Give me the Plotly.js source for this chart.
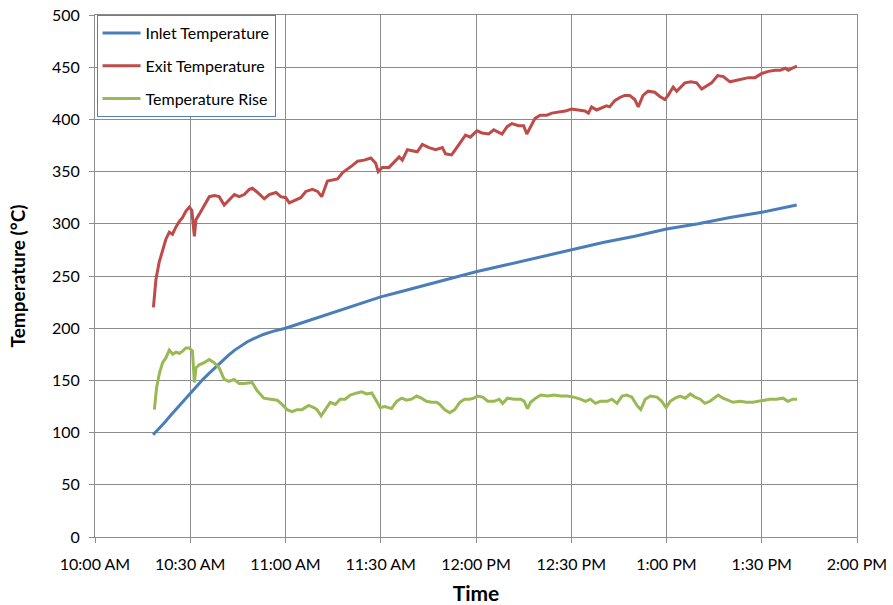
<!DOCTYPE html>
<html>
<head>
<meta charset="utf-8">
<script src="https://cdn.plot.ly/plotly-3.0.1.min.js"></script>
<style>html,body{margin:0;padding:0;background:#fff;}#chart{width:893px;height:605px;}</style>
</head>
<body>
<div id="chart"></div>
<script>
// Time is minutes after 10:00 AM
const tickMinutes = [0, 30, 60, 90, 120, 150, 180, 210, 240];
const tickLabels = ["10:00 AM", "10:30 AM", "11:00 AM", "11:30 AM", "12:00 PM", "12:30 PM", "1:00 PM", "1:30 PM", "2:00 PM"];

const inletTime = [18.3, 20, 22, 24, 26, 28, 30, 32, 34, 36, 38, 40, 42, 44, 46, 48, 50, 53, 56, 60, 65, 70, 75, 80, 85, 90, 95, 100, 105, 110, 115, 120, 130, 140, 150, 160, 170, 180, 190, 200, 210, 221];
const inletTemp = [98, 104, 110, 117, 124, 131, 138, 145, 151, 157, 163, 169, 174, 179, 183, 187, 190, 194, 197, 200, 205, 210, 215, 220, 225, 230, 234, 238, 242, 246, 250, 254, 261, 268, 275, 282, 288, 295, 300, 306, 311, 318];

const exitTime = [18.4, 19.2, 20.2, 21.3, 22.3, 23.4, 24.4, 25.5, 26.5, 27.6, 28.6, 29.7, 30.5, 31.3, 31.8, 32.8, 34.4, 36, 37.6, 39.1, 40.7, 42.3, 43.9, 45.4, 47, 48.6, 49.6, 51.2, 53.3, 54.9, 57, 58.5, 60.1, 61.2, 62.7, 64.8, 66.4, 68.5, 70.1, 71.4, 73.2, 74.8, 76.4, 78, 79.5, 81.1, 82.7, 84.8, 86.9, 88.4, 89.2, 90.5, 92.6, 94.2, 95.8, 96.8, 98.4, 99.9, 101.5, 103.1, 105.2, 107.3, 109.4, 110.4, 112.3, 113.5, 115.1, 116.7, 118.2, 120.3, 121.9, 124, 125.6, 127.1, 128.2, 129.8, 131.3, 133.4, 135, 136, 137.1, 138.6, 140.2, 142.3, 143.9, 146, 148.1, 150.1, 152.2, 154.3, 155.4, 156.4, 158, 159.6, 161.1, 162.1, 163.7, 165.3, 166.8, 168.4, 170, 171.1, 172.6, 174.2, 176.3, 177.9, 179.5, 180.5, 182.1, 183.2, 184.2, 185.8, 187.7, 189.5, 191.1, 192.6, 194.2, 196.1, 197.9, 200, 201.6, 203.7, 205.8, 207.9, 210, 212.1, 214.2, 215.8, 217.4, 218.4, 219.5, 221.1];
const exitTemp = [220, 247, 263, 275, 285, 292, 290, 297, 302, 306, 312, 316, 313, 288, 304, 309, 318, 326, 327, 326, 318, 323, 328, 326, 328, 333, 334, 330, 324, 328, 330, 326, 325, 320, 322, 325, 331, 333, 331, 326, 341, 342, 343, 349, 352, 356, 360, 361, 363, 358, 350, 354, 354, 359, 364, 361, 371, 370, 369, 376, 373, 371, 373, 367, 366, 371, 378, 385, 383, 389, 387, 386, 390, 388, 386, 393, 396, 394, 394, 386, 393, 401, 404, 404, 406, 407, 408, 410, 409, 408, 406, 412, 409, 411, 413, 412, 418, 421, 423, 423, 419, 412, 423, 427, 426, 422, 419, 423, 431, 427, 430, 435, 436, 435, 429, 432, 435, 442, 441, 436, 437, 439, 440, 440, 444, 446, 447, 447, 449, 447, 449, 451];

const riseTime = [18.7, 19.4, 20.3, 21.3, 22.4, 23.4, 24.5, 25.5, 26.6, 27.6, 28.6, 29.7, 30.7, 31.3, 31.8, 32.8, 34.4, 36, 37.5, 39.1, 40.7, 42.2, 43.8, 45.4, 46.9, 48.5, 49.5, 51.1, 53.2, 55.3, 57.4, 58.9, 60.5, 62.1, 63.6, 65.2, 67.3, 68.9, 69.9, 71.2, 72.5, 74.1, 75.7, 77.2, 78.8, 80.4, 82.5, 84, 85.6, 87.2, 88.7, 89.8, 91.3, 93.4, 95, 96.6, 98.1, 99.7, 101.3, 102.8, 104.4, 106, 107.6, 108.6, 110.1, 111.7, 113.3, 114.9, 116.4, 118, 119.3, 120.5, 122.1, 123.7, 125.7, 127.3, 128.4, 129.9, 132, 134.1, 135.2, 136.2, 137.2, 138.8, 140.4, 142.5, 144.6, 146.7, 148.7, 150.8, 152.9, 154.5, 156, 157.6, 159.2, 161.3, 162.8, 164.4, 166, 167.5, 169.1, 170.7, 171.9, 173.3, 174.9, 177, 178.5, 179.9, 181.2, 182.7, 184.3, 185.9, 187.5, 189, 190.6, 192.1, 193.7, 195.2, 196.3, 197.8, 199.4, 201, 203.1, 205.2, 207.2, 208.8, 210.4, 212.5, 214.6, 216.7, 218.2, 219.8, 221.1];
const riseTemp = [122, 143, 157, 167, 172, 179, 175, 177, 176, 178, 181, 181, 178, 148, 162, 165, 167, 170, 167, 162, 151, 149, 151, 147, 147, 148, 148, 140, 133, 132, 131, 127, 122, 120, 122, 122, 126, 124, 122, 116, 122, 129, 127, 132, 132, 136, 138, 139, 137, 138, 130, 124, 125, 123, 130, 133, 131, 132, 135, 133, 130, 129, 129, 127, 122, 119, 122, 129, 132, 132, 133, 135, 134, 130, 130, 132, 128, 133, 132, 132, 130, 123, 129, 133, 136, 135, 136, 135, 135, 134, 132, 130, 132, 128, 130, 130, 132, 128, 135, 136, 134, 126, 122, 132, 135, 134, 130, 124, 130, 133, 135, 133, 137, 134, 132, 128, 130, 133, 136, 133, 131, 129, 130, 129, 129, 130, 131, 132, 132, 133, 130, 132, 132];

const seriesNames = ["Inlet Temperature", "Exit Temperature", "Temperature Rise"];
const seriesColors = ["#4A7EBB", "#BE4B48", "#98B954"];

const FONT = "Lato, 'Open Sans', 'Liberation Sans', sans-serif";

const traces = [
  {x: inletTime, y: inletTemp},
  {x: exitTime, y: exitTemp},
  {x: riseTime, y: riseTemp}
].map((d, i) => ({
  x: d.x, y: d.y, type: "scatter", mode: "lines",
  name: seriesNames[i], legendgroup: "g" + i,
  line: {color: seriesColors[i], width: 3}
}));

const layout = {
  width: 893, height: 605,
  margin: {l: 95, r: 36, t: 15, b: 68},
  paper_bgcolor: "#fff", plot_bgcolor: "#fff",
  font: {family: FONT, size: 16, color: "#000"},
  showlegend: true,
  legend: {
    x: 0.002, y: 1, xanchor: "left", yanchor: "top",
    bgcolor: "#fff", bordercolor: "#4F81BD", borderwidth: 1,
    font: {family: FONT, size: 16, color: "#000"},
    itemwidth: 38,
    tracegroupgap: 9
  },
  xaxis: {
    range: [0, 240], tickvals: tickMinutes, ticktext: tickLabels,
    showgrid: true, gridcolor: "#8C8C8C", gridwidth: 1,
    showline: true, linecolor: "#8C8C8C", linewidth: 1, mirror: true,
    ticks: "outside", ticklen: 5, tickcolor: "#8C8C8C",
    ticklabelstandoff: 8,
    zeroline: false,
    tickfont: {family: FONT, size: 16, color: "#000"},
    title: {text: "Time", font: {family: FONT, size: 21, color: "#000", weight: "bold"}, standoff: 14}
  },
  yaxis: {
    range: [0, 500], dtick: 50,
    showgrid: true, gridcolor: "#8C8C8C", gridwidth: 1,
    showline: true, linecolor: "#8C8C8C", linewidth: 1, mirror: true,
    ticks: "outside", ticklen: 5, tickcolor: "#8C8C8C",
    ticklabelstandoff: 6,
    zeroline: false,
    tickfont: {family: FONT, size: 16, color: "#000"},
    title: {text: "Temperature (°C)", font: {family: FONT, size: 19, color: "#000", weight: "bold"}, standoff: 21}
  }
};

Plotly.newPlot("chart", traces, layout, {displayModeBar: false, staticPlot: true});
</script>
</body>
</html>
